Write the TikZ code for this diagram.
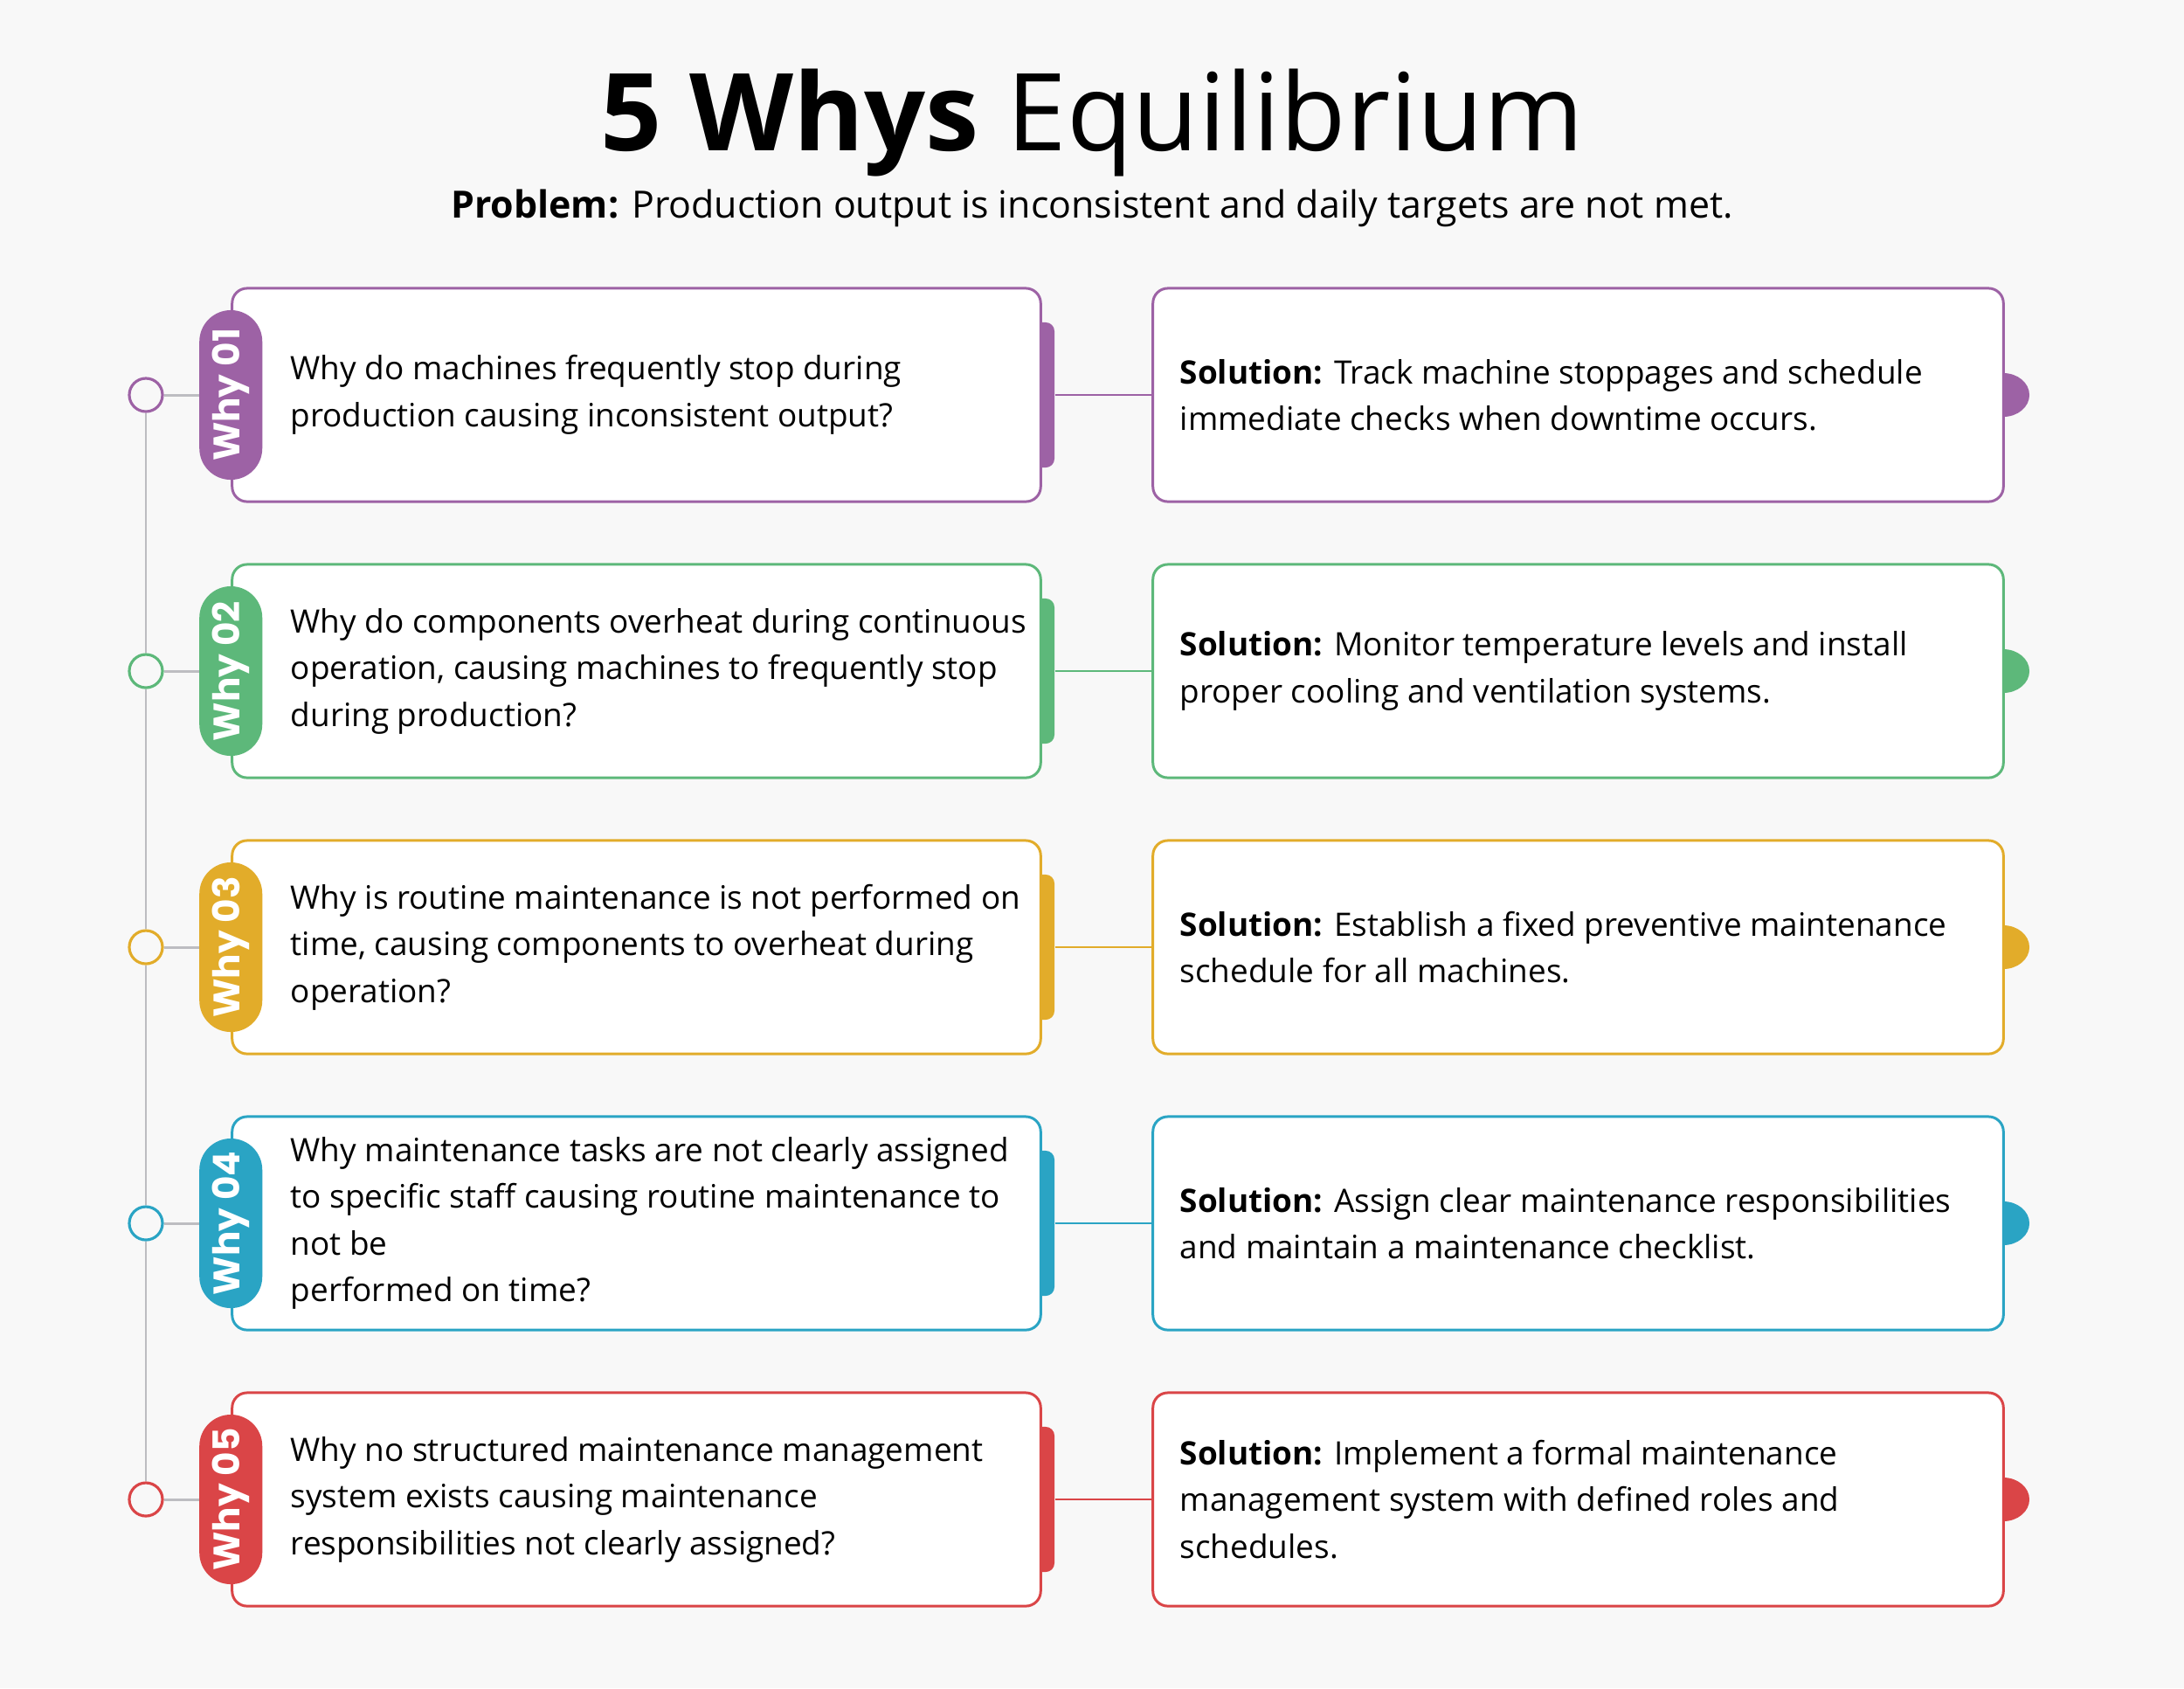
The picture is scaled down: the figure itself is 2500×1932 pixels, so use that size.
\documentclass[tikz,border=0pt]{standalone}
\usepackage{fontspec}
\setmainfont{Open Sans}
\newfontfamily\pillfont{Poppins}
\usepackage{tikz}
\usetikzlibrary{shapes.geometric}

\definecolor{bgcol}{HTML}{F8F8F8}
\definecolor{stemgray}{HTML}{BDBDC1}
\definecolor{whyPurple}{HTML}{9D62A5}
\definecolor{whyGreen}{HTML}{5DB87A}
\definecolor{whyYellow}{HTML}{E2AC2A}
\definecolor{whyTeal}{HTML}{2AA4C4}
\definecolor{whyRed}{HTML}{DA4547}

\begin{document}
\begin{tikzpicture}[x=0.01cm, y=-0.01cm,
    whybox/.style={draw=#1, fill=white, line width=0.85pt, rounded corners=0.17cm, minimum width=9.25cm, minimum height=2.44cm, inner sep=0pt},
    solbox/.style={draw=#1, fill=white, line width=0.85pt, rounded corners=0.17cm, minimum width=9.73cm, minimum height=2.44cm, inner sep=0pt},
    tabbox/.style={fill=#1, rounded corners=0.1cm, minimum width=0.32cm, minimum height=1.66cm, inner sep=0pt},
    knob/.style={ellipse, fill=#1, minimum width=0.6cm, minimum height=0.5cm, inner sep=0pt},
    pill/.style={fill=#1, text=white, rounded corners=0.36cm, minimum width=1.94cm, minimum height=0.72cm, inner sep=0pt, rotate=90, font=\pillfont\bfseries\fontsize{12}{12}\selectfont},
    dot/.style={circle, draw=#1, fill=bgcol, line width=0.9pt, minimum size=0.38cm, inner sep=0pt},
    stem/.style={draw=stemgray, line width=0.85pt},
    link/.style={draw=#1, line width=0.6pt},
    body/.style={anchor=west, align=left, inner sep=0pt, font=\fontsize{10.5}{15.2}\selectfont},
  ]

  % Background
  \fill[bgcol] (0,0) rectangle (2500,1932);

  % Title and problem
  \node[anchor=base, inner sep=0pt] (title) at (1250,172) {\fontsize{35}{35}\selectfont\textbf{5 Whys} Equilibrium};
  \node[anchor=base, inner sep=0pt] (problem) at (1250,249) {\fontsize{12.2}{14}\selectfont\textbf{Problem:} Production output is inconsistent and daily targets are not met.};

  % Why 01
  \node[tabbox=whyPurple] (tab1) at (1191,452) {};
  \node[whybox=whyPurple] (why1) at (728.5,452) {};
  \node[knob=whyPurple] (knob1) at (2293,452) {};
  \node[solbox=whyPurple] (sol1) at (1806.5,452) {};
  \draw[link=whyPurple] (tab1.east) -- (sol1.west);
  \node[pill=whyPurple] (pill1) at (why1.west) {Why 01};
  \node[dot=whyPurple] (dot1) at (167,452) {};
  \draw[stem] (dot1) -- (pill1);
  \node[body] (q1) at (332,452) {Why do machines frequently stop during\\production causing inconsistent output?};
  \node[body] (s1) at (1350,452) {\textbf{Solution:} Track machine stoppages and schedule\\immediate checks when downtime occurs.};

  % Why 02
  \node[tabbox=whyGreen] (tab2) at (1191,768) {};
  \node[whybox=whyGreen] (why2) at (728.5,768) {};
  \node[knob=whyGreen] (knob2) at (2293,768) {};
  \node[solbox=whyGreen] (sol2) at (1806.5,768) {};
  \draw[link=whyGreen] (tab2.east) -- (sol2.west);
  \node[pill=whyGreen] (pill2) at (why2.west) {Why 02};
  \node[dot=whyGreen] (dot2) at (167,768) {};
  \draw[stem] (dot2) -- (pill2);
  \node[body] (q2) at (332,768) {Why do components overheat during continuous\\operation, causing machines to frequently stop\\during production?};
  \node[body] (s2) at (1350,768) {\textbf{Solution:} Monitor temperature levels and install\\proper cooling and ventilation systems.};

  % Why 03
  \node[tabbox=whyYellow] (tab3) at (1191,1084) {};
  \node[whybox=whyYellow] (why3) at (728.5,1084) {};
  \node[knob=whyYellow] (knob3) at (2293,1084) {};
  \node[solbox=whyYellow] (sol3) at (1806.5,1084) {};
  \draw[link=whyYellow] (tab3.east) -- (sol3.west);
  \node[pill=whyYellow] (pill3) at (why3.west) {Why 03};
  \node[dot=whyYellow] (dot3) at (167,1084) {};
  \draw[stem] (dot3) -- (pill3);
  \node[body] (q3) at (332,1084) {Why is routine maintenance is not performed on\\time, causing components to overheat during\\operation?};
  \node[body] (s3) at (1350,1084) {\textbf{Solution:} Establish a fixed preventive maintenance\\schedule for all machines.};

  % Why 04
  \node[tabbox=whyTeal] (tab4) at (1191,1400) {};
  \node[whybox=whyTeal] (why4) at (728.5,1400) {};
  \node[knob=whyTeal] (knob4) at (2293,1400) {};
  \node[solbox=whyTeal] (sol4) at (1806.5,1400) {};
  \draw[link=whyTeal] (tab4.east) -- (sol4.west);
  \node[pill=whyTeal] (pill4) at (why4.west) {Why 04};
  \node[dot=whyTeal] (dot4) at (167,1400) {};
  \draw[stem] (dot4) -- (pill4);
  \node[body] (q4) at (332,1400) {Why maintenance tasks are not clearly assigned\\to specific staff causing routine maintenance to\\not be\\performed on time?};
  \node[body] (s4) at (1350,1400) {\textbf{Solution:} Assign clear maintenance responsibilities\\and maintain a maintenance checklist.};

  % Why 05
  \node[tabbox=whyRed] (tab5) at (1191,1716) {};
  \node[whybox=whyRed] (why5) at (728.5,1716) {};
  \node[knob=whyRed] (knob5) at (2293,1716) {};
  \node[solbox=whyRed] (sol5) at (1806.5,1716) {};
  \draw[link=whyRed] (tab5.east) -- (sol5.west);
  \node[pill=whyRed] (pill5) at (why5.west) {Why 05};
  \node[dot=whyRed] (dot5) at (167,1716) {};
  \draw[stem] (dot5) -- (pill5);
  \node[body] (q5) at (332,1716) {Why no structured maintenance management\\system exists causing maintenance\\responsibilities not clearly assigned?};
  \node[body] (s5) at (1350,1716) {\textbf{Solution:} Implement a formal maintenance\\management system with defined roles and\\schedules.};

  % Timeline stem
  \draw[stem] (dot1) -- (dot2);
  \draw[stem] (dot2) -- (dot3);
  \draw[stem] (dot3) -- (dot4);
  \draw[stem] (dot4) -- (dot5);

\end{tikzpicture}
\end{document}
